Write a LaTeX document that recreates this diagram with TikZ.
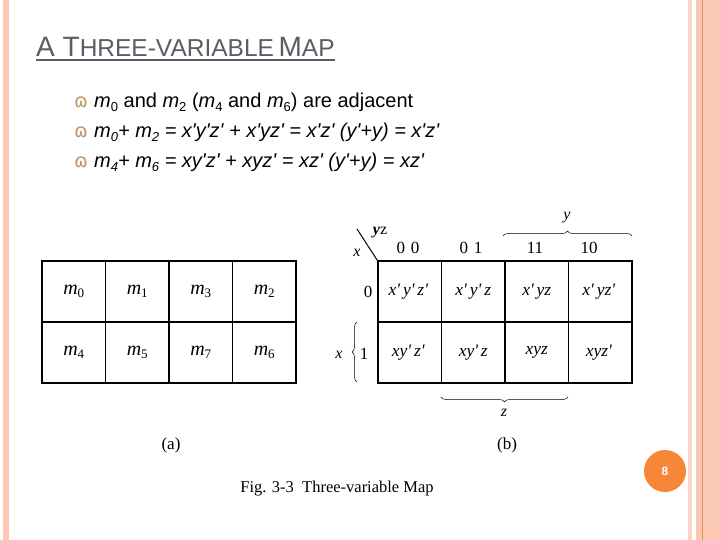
\documentclass[tikz,border=0pt]{standalone}
\usepackage{fontspec}
\setmainfont{Liberation Serif}
\setsansfont{Liberation Sans}
\newfontfamily\symfont{DejaVu Sans}
\usetikzlibrary{positioning,decorations.pathreplacing,calc}
\definecolor{slidepeach}{RGB}{251,200,180}
\definecolor{slidepale}{RGB}{250,212,196}
\definecolor{slideline}{RGB}{228,146,96}
\definecolor{slidegrey}{RGB}{89,94,102}
\definecolor{slideorange}{RGB}{246,135,56}
\definecolor{bulletbrown}{RGB}{196,146,100}
\newcommand{\prm}{\textquotesingle\,}
\newcommand{\mterm}[1]{\textit{m}{\fontsize{13}{13}\selectfont\raisebox{-3pt}{#1}}}
\newcommand{\msub}[1]{{\fontsize{13}{13}\selectfont\raisebox{-4pt}{#1}}}
\tikzset{
  cell/.style={draw,line width=1.3pt,minimum width=63.5pt,minimum height=61pt,inner sep=0pt,font=\fontsize{17.5}{17.5}\selectfont\itshape},
  lbl/.style={inner sep=0pt,font=\fontsize{16}{16}\selectfont},
  bullet/.style={inner sep=0pt,anchor=base west,font=\fontsize{20}{20}\selectfont\sffamily},
  bmark/.style={inner sep=0pt,anchor=base west,text=bulletbrown,font=\fontsize{19}{19}\selectfont\symfont},
  title/.style={inner sep=0pt,anchor=base west,text=slidegrey,font=\fontsize{24.5}{24.5}\selectfont\sffamily},
  brc/.style={decorate,decoration={brace,amplitude=5pt},line width=0.5pt},
}

\begin{document}
\begin{tikzpicture}[x=1pt,y=-1pt]
  \useasboundingbox (0,0) rectangle (720,540);
  \fill[white] (0,0) rectangle (720,540);
  % side stripes
  \fill[slidepeach] (3,0) rectangle (9,540);
  \fill[slidepale] (688,0) rectangle (692,540);
  \fill[slidepeach] (696,0) rectangle (720,540);
  \draw[slideline,line width=1pt] (702,0) -- (702,540);

  % title and bullets
  \node[title] (title) at (36,57) {{\fontsize{28}{28}\selectfont A T}HREE-VARIABLE{\fontsize{28}{28}\selectfont\,M}AP};
  \draw[slidegrey,line width=1.2pt] ([yshift=-3pt]title.base west) -- ([yshift=-3pt]title.base east);
  \foreach \y [count=\i] in {108,138,168}
    \node[bmark] (mark\i) at (74,\y) {ɷ};
  \node[bullet] (line1) at (94,108) {\textit{m}\msub{0} and \textit{m}\msub{2} (\textit{m}\msub{4} and \textit{m}\msub{6}) are adjacent};
  \node[bullet] (line2) at (94,138) {\itshape m\msub{0}+ m\msub{2} = x\textquotesingle y\textquotesingle z\textquotesingle{} + x\textquotesingle yz\textquotesingle{} = x\textquotesingle z\textquotesingle{} (y\textquotesingle+y) = x\textquotesingle z\textquotesingle};
  \node[bullet] (line3) at (94,168) {\itshape m\msub{4}+ m\msub{6} = xy\textquotesingle z\textquotesingle{} + xyz\textquotesingle{} = xz\textquotesingle{} (y\textquotesingle+y) = xz\textquotesingle};

  % map (a)
  \foreach \t [count=\i from 0] in {0,1,3,2}
    \node[cell,font=\fontsize{20}{20}\selectfont] (a0\i) at ({73.75+63.5*\i},291.5) {\mterm{\t}};
  \foreach \t [count=\i from 0] in {4,5,7,6}
    \node[cell,font=\fontsize{20}{20}\selectfont] (a1\i) at ({73.75+63.5*\i},352.5) {\mterm{\t}};
  \node[lbl,font=\fontsize{17}{17}\selectfont] (capa) at (171,445) {(a)};

  % map (b)
  \foreach \t [count=\i from 0] in {x\prm y\prm z\prm,x\prm y\prm z,x\prm yz,x\prm yz\prm}
    \node[cell] (b0\i) at ({409.75+63.5*\i},291.5) {\t};
  \foreach \t [count=\i from 0] in {xy\prm z\prm,xy\prm z,xyz,xyz\prm}
    \node[cell] (b1\i) at ({409.75+63.5*\i},352.5) {\t};
  \node[lbl,font=\fontsize{17}{17}\selectfont] (h0) at (408,248) {0\,\,0};
  \node[lbl,font=\fontsize{17}{17}\selectfont] (h1) at (471,248) {0\,\,1};
  \node[lbl,font=\fontsize{17}{17}\selectfont] (h2) at (535,248) {11};
  \node[lbl,font=\fontsize{17}{17}\selectfont] (h3) at (589,248) {10};
  \node[lbl,font=\fontsize{17}{17}\selectfont] (r0) at (368,292) {0};
  \node[lbl,font=\fontsize{17}{17}\selectfont] (r1) at (364,354) {1};
  \coordinate (diag) at (357,229);
  \draw[line width=1pt] (diag) -- (b00.north west);
  \node[lbl,font=\fontsize{16}{16}\selectfont] (vyz) at (380,233) {\textbf{\textit{y}}z};
  \node[lbl,font=\fontsize{16}{16}\selectfont\itshape] (vx) at (357,253) {x};
  \coordinate (ytop1) at (503,236);
  \coordinate (ytop2) at (632,236);
  \draw[brc] (ytop1) -- (ytop2);
  \node[lbl,font=\fontsize{16}{16}\selectfont\itshape] (ylab) at (567,218) {y};
  \coordinate (zbot1) at (568,397);
  \coordinate (zbot2) at (441,397);
  \draw[brc] (zbot1) -- (zbot2);
  \node[lbl,font=\fontsize{16}{16}\selectfont\itshape] (zlab) at (504,413) {z};
  \coordinate (xl1) at (357,382);
  \coordinate (xl2) at (357,322);
  \draw[brc] (xl1) -- (xl2);
  \node[lbl,font=\fontsize{16}{16}\selectfont\itshape] (xlab) at (339,355) {x};
  \node[lbl,font=\fontsize{17}{17}\selectfont] (capb) at (507,445) {(b)};

  % caption and page number
  \node[lbl,font=\fontsize{16.5}{16.5}\selectfont] (fig) at (337,489) {Fig. 3-3\ \ Three-variable Map};
  \node[circle,fill=slideorange,minimum size=42pt,inner sep=0pt,text=white,font=\fontsize{12}{12}\selectfont\sffamily\bfseries] (page) at (665,471) {8};
\end{tikzpicture}
\end{document}
